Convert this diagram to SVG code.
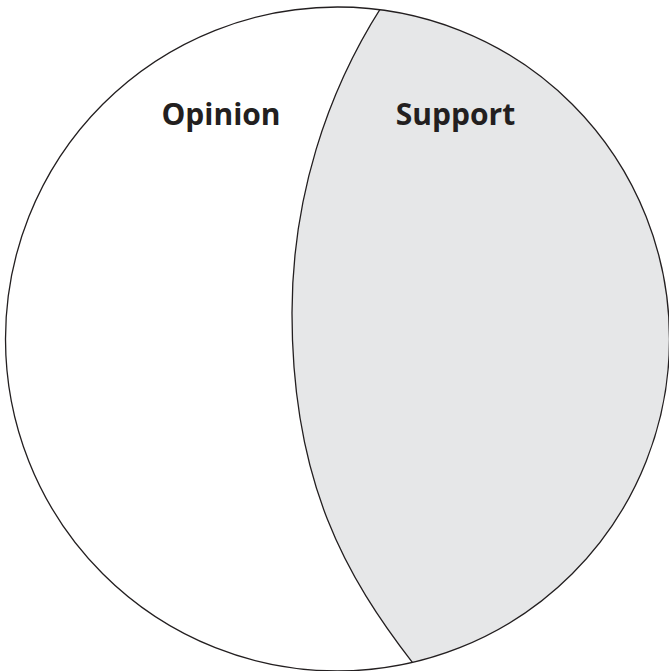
<svg xmlns="http://www.w3.org/2000/svg" width="669" height="671" viewBox="0 0 669 671">
  <style>
    .edge { fill: none; stroke: #231f20; stroke-width: 1.3; }
    .label { font-family: "Open Sans", "Noto Sans", "Liberation Sans", sans-serif; font-weight: 700; font-size: 30px; fill: #231f20; text-anchor: middle; }
  </style>
  <defs>
    <clipPath id="disc">
      <circle cx="337.5" cy="339" r="332"/>
    </clipPath>
  </defs>

  <rect width="669" height="671" fill="#ffffff"/>

  <!-- left part of the disc -->
  <g id="opinion">
    <circle cx="337.5" cy="339" r="332" fill="#ffffff"/>
    <text class="label" x="221" y="125">Opinion</text>
  </g>

  <!-- right part of the disc, bounded by the curved divider -->
  <g id="support">
    <path clip-path="url(#disc)" fill="#e6e7e8"
          d="M386,0 A569,569 0 0 0 292,313 C292,483 346.2,576.8 413.3,663.7 L425,679 L690,690 L690,-10 Z"/>
    <text class="label" x="455.5" y="125">Support</text>
  </g>

  <!-- divider curve and outer rim -->
  <g id="connectors">
    <path class="edge" clip-path="url(#disc)"
          d="M386,0 A569,569 0 0 0 292,313 C292,483 346.2,576.8 413.3,663.7 L425,679"/>
    <circle class="edge" cx="337.5" cy="339" r="332"/>
  </g>
</svg>
